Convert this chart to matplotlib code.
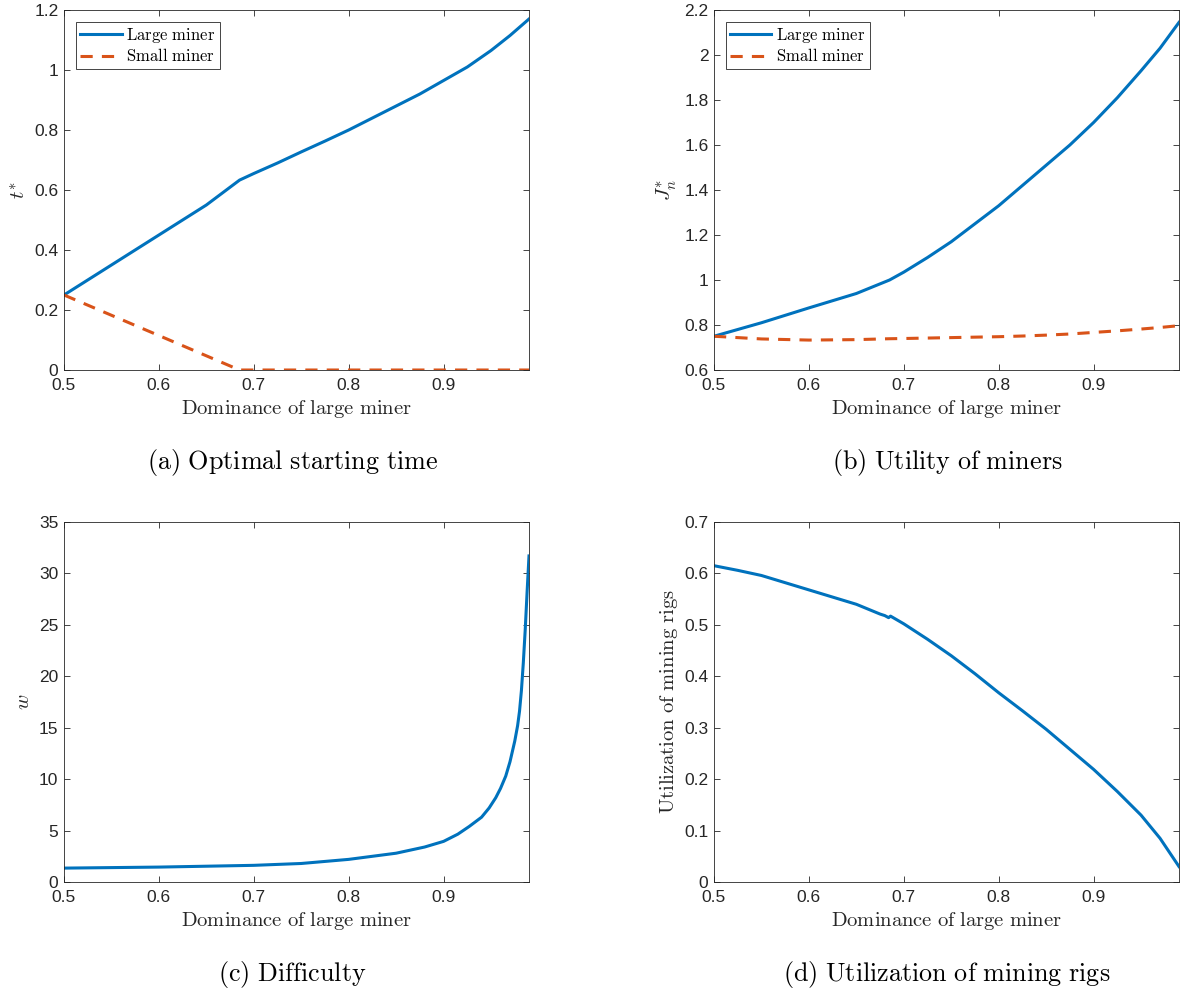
import matplotlib
matplotlib.use("Agg")
import matplotlib.pyplot as plt

# ---------------- data ----------------
# (a) optimal starting time
x_a_large = [0.5, 0.55, 0.6, 0.65, 0.685, 0.7, 0.725, 0.75, 0.775, 0.8, 0.825, 0.85,
             0.875, 0.9, 0.925, 0.95, 0.97, 0.99]
t_large = [0.25, 0.35, 0.45, 0.55, 0.633, 0.655, 0.69, 0.727, 0.763, 0.80, 0.84, 0.88,
           0.92, 0.965, 1.01, 1.065, 1.115, 1.17]
x_a_small = [0.5, 0.685, 0.7, 0.8, 0.9, 0.99]
t_small = [0.25, 0.0, 0.0, 0.0, 0.0, 0.0]

# (b) utility of miners
x_b = [0.5, 0.55, 0.6, 0.65, 0.685, 0.7, 0.725, 0.75, 0.775, 0.8, 0.825, 0.85,
       0.875, 0.9, 0.925, 0.95, 0.97, 0.99]
J_large = [0.75, 0.81, 0.876, 0.94, 1.0, 1.035, 1.10, 1.17, 1.25, 1.33, 1.42, 1.51,
           1.60, 1.70, 1.81, 1.93, 2.03, 2.145]
J_small = [0.75, 0.738, 0.733, 0.735, 0.739, 0.740, 0.742, 0.744, 0.746, 0.748, 0.751, 0.755,
           0.760, 0.767, 0.774, 0.782, 0.789, 0.797]

# (c) difficulty
x_c = [0.5, 0.6, 0.7, 0.75, 0.8, 0.85, 0.88, 0.9, 0.915, 0.927, 0.94, 0.948, 0.955,
       0.96, 0.9655, 0.97, 0.975, 0.978, 0.98, 0.982, 0.984, 0.986, 0.988, 0.99]
w = [1.35, 1.45, 1.62, 1.8, 2.2, 2.8, 3.4, 3.95, 4.65, 5.4, 6.3, 7.2, 8.2,
     9.1, 10.3, 11.7, 13.7, 15.2, 16.6, 18.6, 21.3, 24.5, 28.2, 31.7]

# (d) utilization of mining rigs
x_d = [0.5, 0.525, 0.55, 0.575, 0.6, 0.625, 0.65, 0.675, 0.68, 0.684, 0.686, 0.7,
       0.725, 0.75, 0.775, 0.8, 0.825, 0.85, 0.875, 0.9, 0.925, 0.95, 0.97, 0.99]
u = [0.615, 0.606, 0.596, 0.582, 0.568, 0.554, 0.54, 0.521, 0.518, 0.514, 0.517, 0.502,
     0.472, 0.44, 0.405, 0.368, 0.333, 0.297, 0.258, 0.219, 0.176, 0.13, 0.085, 0.03]

xticks = [0.5, 0.6, 0.7, 0.8, 0.9]
xlabel = r'$\mathrm{Dominance\ of\ large\ miner}$'
captions = [r'$\mathrm{(a)\ Optimal\ starting\ time}$', r'$\mathrm{(b)\ Utility\ of\ miners}$',
            r'$\mathrm{(c)\ Difficulty}$', r'$\mathrm{(d)\ Utilization\ of\ mining\ rigs}$']

# ---------------- style ----------------
plt.rcParams['font.family'] = ['Liberation Sans', 'DejaVu Sans']
plt.rcParams['mathtext.fontset'] = 'cm'
BLUE = '#0072BD'
ORANGE = '#D95319'
AXC = '#262626'

fig = plt.figure(figsize=(11.81, 9.92), dpi=100)
W, H = 1181.0, 992.0
def ax_at(l, t, r, b):
    return fig.add_axes([l / W, 1 - b / H, (r - l) / W, (b - t) / H])

axa = ax_at(64, 10, 529, 370)
axb = ax_at(714, 10, 1179, 370)
axc = ax_at(64, 522, 529, 882)
axd = ax_at(714, 522, 1179, 882)

def style(ax, ylim, yticks):
    ax.set_xlim(0.5, 0.99)
    ax.set_ylim(*ylim)
    ax.set_xticks(xticks)
    ax.set_xticklabels([f'{v:g}' for v in xticks])
    ax.set_yticks(yticks)
    ax.set_yticklabels([f'{v:g}' for v in yticks])
    ax.tick_params(direction='in', top=True, right=True, length=4, width=0.6,
                   colors=AXC, labelsize=12.5, pad=4)
    ax.tick_params(axis='x', pad=6)
    for s in ax.spines.values():
        s.set_color(AXC)
        s.set_linewidth(0.6)
    ax.set_xlabel(xlabel, fontsize=14.8, color=AXC, labelpad=3)

lw = 2.2
axa.plot(x_a_large, t_large, color=BLUE, lw=lw, label=r'$\mathrm{Large\ miner}$')
axa.plot(x_a_small, t_small, color=ORANGE, lw=lw, ls=(0, (4, 3)), label=r'$\mathrm{Small\ miner}$')
style(axa, (0, 1.2), [0, 0.2, 0.4, 0.6, 0.8, 1, 1.2])
axa.set_ylabel(r'$t^{*}$', fontsize=15, color=AXC, labelpad=4)

axb.plot(x_b, J_large, color=BLUE, lw=lw, label=r'$\mathrm{Large\ miner}$')
axb.plot(x_b, J_small, color=ORANGE, lw=lw, ls=(0, (4, 3)), label=r'$\mathrm{Small\ miner}$')
style(axb, (0.6, 2.2), [0.6, 0.8, 1, 1.2, 1.4, 1.6, 1.8, 2, 2.2])
axb.set_ylabel(r'$J_n^{*}$', fontsize=15, color=AXC, labelpad=4)

axc.plot(x_c, w, color=BLUE, lw=lw)
style(axc, (0, 35), [0, 5, 10, 15, 20, 25, 30, 35])
axc.set_ylabel(r'$w$', fontsize=15, color=AXC, labelpad=4)

axd.plot(x_d, u, color=BLUE, lw=lw)
style(axd, (0, 0.7), [0, 0.1, 0.2, 0.3, 0.4, 0.5, 0.6, 0.7])
axd.set_ylabel(r'$\mathrm{Utilization\ of\ mining\ rigs}$', fontsize=14.8, color=AXC, labelpad=3)

for ax in (axa, axb):
    leg = ax.legend(loc='upper left', fontsize=12, handlelength=2.5, handletextpad=0.3,
                    borderpad=0.25, labelspacing=0.15, borderaxespad=0.7, fancybox=False,
                    framealpha=1)
    leg.get_frame().set_edgecolor(AXC)
    leg.get_frame().set_linewidth(0.6)

cap_pos = [(292, 462), (947, 462), (292, 975), (947, 975)]
for (cx, cy), txt in zip(cap_pos, captions):
    fig.text(cx / W, 1 - cy / H, txt, ha='center', va='center', fontsize=18.8, color='black')

fig.savefig('out.png', dpi=100)
